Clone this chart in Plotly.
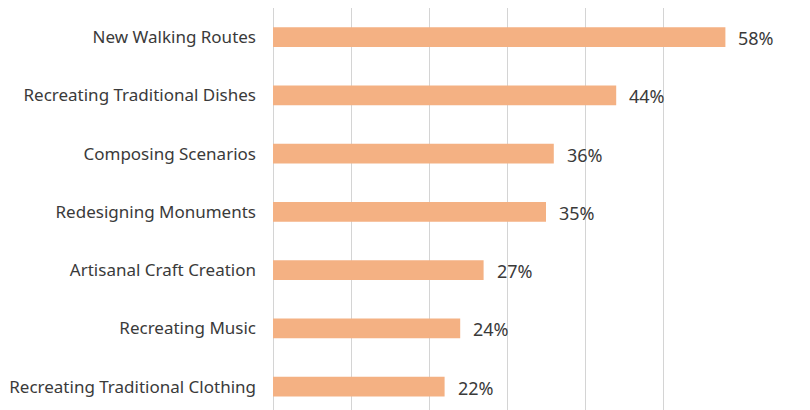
import plotly.graph_objects as go

categories = [
    "New Walking Routes",
    "Recreating Traditional Dishes",
    "Composing Scenarios",
    "Redesigning Monuments",
    "Artisanal Craft Creation",
    "Recreating Music",
    "Recreating Traditional Clothing",
]
values = [58, 44, 36, 35, 27, 24, 22]
labels = [f"{v}%" for v in values]

fig = go.Figure()
fig.add_trace(go.Bar(
    x=values, y=categories, orientation="h",
    marker=dict(color="#F4B183", line=dict(width=0)),
    width=0.34,
    hoverinfo="skip",
))
for c, v, t in zip(categories, values, labels):
    fig.add_annotation(x=v, y=c, text=t, showarrow=False, xanchor="left",
                       xshift=11, yshift=-1,
                       font=dict(family="Noto Sans", size=18, color="#3A3A3A"))

fig.update_layout(
    width=810, height=410,
    margin=dict(l=273, r=69, t=8, b=0),
    plot_bgcolor="white", paper_bgcolor="white",
    showlegend=False,
    font=dict(family="Noto Sans", size=17, color="#3A3A3A"),
)
fig.update_xaxes(range=[0, 60], dtick=10, showgrid=True, gridcolor="#D4D4D4",
                 gridwidth=1, showticklabels=False, zeroline=True,
                 zerolinecolor="#D4D4D4", zerolinewidth=1,
                 showline=False, ticks="")
fig.update_yaxes(categoryorder="array", categoryarray=categories,
                 range=[6.4, -0.5], showgrid=False, showline=False, ticks="",
                 ticklabelstandoff=16,
                 tickfont=dict(family="Noto Sans", size=17, color="#3A3A3A"))
fig.write_html("out.html")
